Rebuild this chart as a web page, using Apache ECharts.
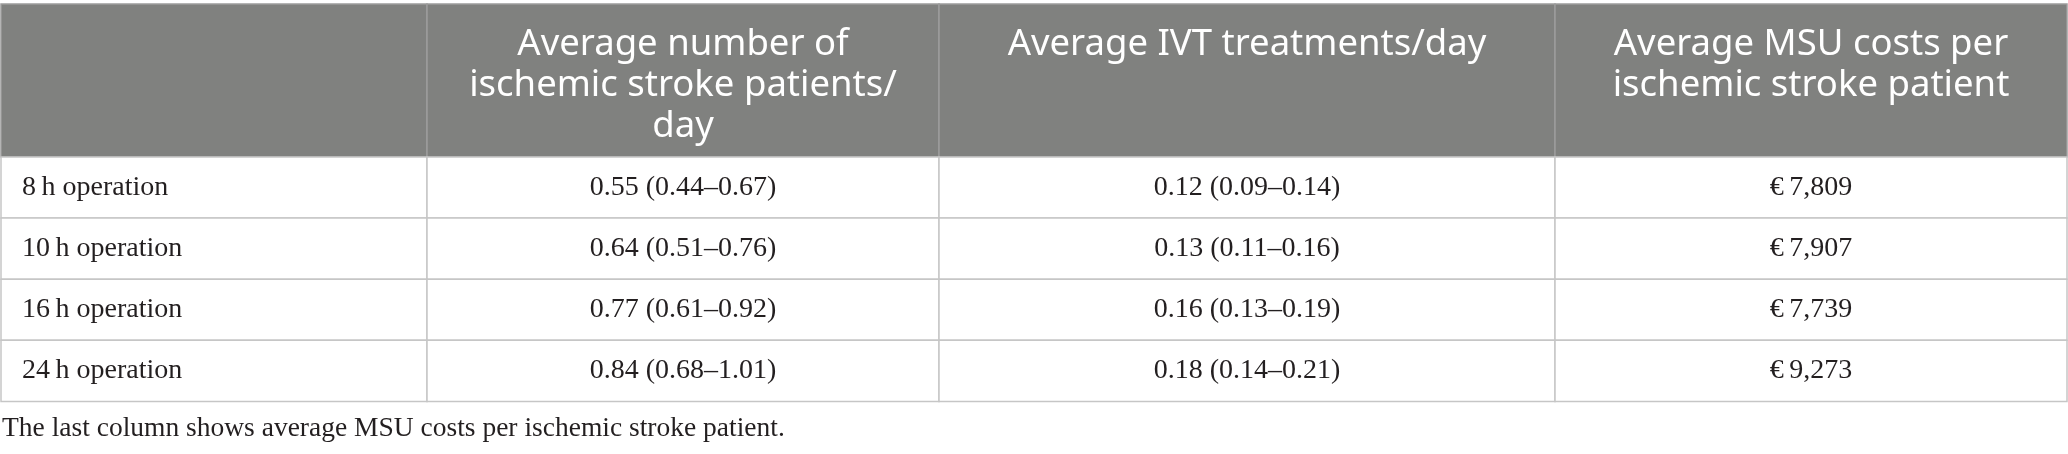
<!DOCTYPE html>
<html>
<head>
<meta charset="utf-8">
<script src="https://cdn.jsdelivr.net/npm/echarts@6/dist/echarts.min.js"></script>
<style>
    html, body { margin: 0; padding: 0; background: #fff; }
    #main { width: 2068px; height: 454px; }
</style>
</head>
<body>
<div id="main"></div>
<script>
// table content
var headers = ['', 'Average number of\nischemic stroke patients/\nday', 'Average IVT treatments/day', 'Average MSU costs per\nischemic stroke patient'];
var rowLabels = ['8\u2009h operation', '10\u2009h operation', '16\u2009h operation', '24\u2009h operation'];
var patientsMean = [0.55, 0.64, 0.77, 0.84];
var patientsLow = [0.44, 0.51, 0.61, 0.68];
var patientsHigh = [0.67, 0.76, 0.92, 1.01];
var ivtMean = [0.12, 0.13, 0.16, 0.18];
var ivtLow = [0.09, 0.11, 0.13, 0.14];
var ivtHigh = [0.14, 0.16, 0.19, 0.21];
var msuCosts = [7809, 7907, 7739, 9273];
var footnote = 'The last column shows average MSU costs per ischemic stroke patient.';

var msuTable = (function () {
    var Return = {
        init: function () {
            buildCells();
            initChart();
        }
    }
    // column borders on the x value axis, header height in row units
    var colEdges = [1, 427, 939, 1555, 2067];
    var headerUnits = 2.5;
    var cells = [];

    var ci = function (m, lo, hi) {
        return m.toFixed(2) + ' (' + lo.toFixed(2) + '\u2013' + hi.toFixed(2) + ')';
    }
    var buildCells = function () {
        for (var c = 0; c < headers.length; c++) {
            cells.push({ value: [c, 0], text: headers[c] });
        }
        for (var i = 0; i < rowLabels.length; i++) {
            cells.push({ value: [0, i + 1], text: rowLabels[i] });
            cells.push({ value: [1, i + 1], text: ci(patientsMean[i], patientsLow[i], patientsHigh[i]) });
            cells.push({ value: [2, i + 1], text: ci(ivtMean[i], ivtLow[i], ivtHigh[i]) });
            cells.push({ value: [3, i + 1], text: '\u20ac\u2009' + msuCosts[i].toLocaleString('en-US') });
        }
    }
    var renderCell = function (params, api) {
        var c = api.value(0), r = api.value(1);
        var head = r === 0;
        var yTop = head ? 0 : headerUnits + r - 1;
        var yBot = head ? headerUnits : headerUnits + r;
        var p0 = api.coord([colEdges[c], yTop]);
        var p1 = api.coord([colEdges[c + 1], yBot]);
        var tx = c === 0 ? p0[0] + 21 : (p0[0] + p1[0]) / 2;
        return {
            type: 'group',
            children: [{
                type: 'rect',
                shape: { x: p0[0], y: p0[1], width: p1[0] - p0[0], height: p1[1] - p0[1] },
                style: {
                    fill: head ? '#80817f' : '#fff',
                    stroke: head ? '#9c9c9c' : '#c6c6c6',
                    lineWidth: 1.5
                }
            }, {
                type: 'text',
                style: {
                    text: cells[params.dataIndex].text,
                    x: tx,
                    y: head ? p0[1] + 20 : (p0[1] + p1[1]) / 2,
                    align: c === 0 ? 'left' : 'center',
                    verticalAlign: head ? 'top' : 'middle',
                    font: head ? '36.5px "Noto Sans"' : '28px "Liberation Serif"',
                    lineHeight: head ? 41 : 30,
                    fill: head ? '#ffffff' : '#231f20'
                }
            }]
        };
    }
    var initChart = function () {
        var myChart = echarts.init(document.getElementById('main'));
        var option = {
            animation: false,
            title: {
                text: footnote,
                left: 2,
                top: 415,
                padding: 0,
                textStyle: {
                    fontFamily: 'Liberation Serif',
                    fontSize: 27.5,
                    fontWeight: 'normal',
                    color: '#231f20'
                }
            },
            grid: {
                left: 0,
                top: 4,
                width: 2068,
                height: 397.5
            },
            xAxis: {
                type: 'value',
                min: 0,
                max: 2068,
                show: false
            },
            yAxis: {
                type: 'value',
                min: 0,
                max: headerUnits + rowLabels.length,
                inverse: true,
                show: false
            },
            series: [{
                type: 'custom',
                clip: false,
                renderItem: renderCell,
                data: cells
            }]
        };
        myChart.setOption(option);
    }
    return Return;
})();

; (function () {
    msuTable.init();
})();
</script>
</body>
</html>
